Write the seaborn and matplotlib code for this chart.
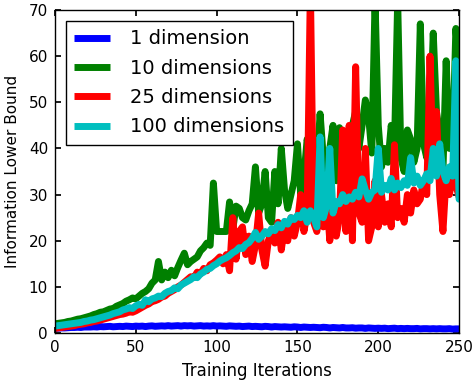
import numpy as np
import pandas as pd
import seaborn as sns
import matplotlib
matplotlib.use("Agg")
import matplotlib.pyplot as plt

# training iterations (every 2nd step)
iterations = list(range(0, 251, 2))

dim1 = [1.0, 1.05, 1.1, 1.1, 1.15, 1.2, 1.2, 1.25, 1.2, 1.3, 1.3,
        1.3, 1.35, 1.3, 1.4, 1.35, 1.4, 1.45, 1.35, 1.4, 1.45,
        1.4, 1.5, 1.45, 1.4, 1.5, 1.45, 1.5, 1.4, 1.5, 1.55,
        1.45, 1.5, 1.55, 1.5, 1.6, 1.5, 1.55, 1.6, 1.5, 1.6,
        1.55, 1.6, 1.5, 1.55, 1.6, 1.5, 1.55, 1.5, 1.6, 1.5,
        1.55, 1.5, 1.45, 1.55, 1.5, 1.45, 1.5, 1.4, 1.45, 1.5,
        1.4, 1.45, 1.4, 1.35, 1.45, 1.4, 1.3, 1.4, 1.35, 1.3,
        1.35, 1.3, 1.25, 1.35, 1.3, 1.2, 1.3, 1.25, 1.2, 1.25,
        1.2, 1.15, 1.25, 1.2, 1.1, 1.2, 1.15, 1.1, 1.2, 1.1,
        1.1, 1.15, 1.05, 1.1, 1.1, 1.0, 1.1, 1.05, 1.0, 1.05,
        1.0, 1.05, 0.95, 1.0, 1.05, 0.95, 1.0, 0.95, 1.0, 0.95,
        0.95, 1.0, 0.9, 0.95, 0.95, 0.9, 0.95, 0.9, 0.95, 0.9,
        0.9, 0.95, 0.85, 0.9, 0.9]

dim10 = [2.0, 2.1, 2.2, 2.3, 2.5, 2.6, 2.8, 3.0, 3.1, 3.3, 3.5,
         3.7, 4.0, 4.2, 4.5, 4.6, 4.9, 5.2, 5.3, 5.8, 6.1,
         6.4, 6.9, 7.2, 7.6, 7.4, 8.0, 8.6, 9.0, 9.6, 10.8,
         11.5, 15.5, 11.5, 13.2, 12.0, 13.6, 12.4, 14.2, 15.8, 17.3,
         14.8, 15.5, 16.0, 16.5, 17.8, 18.5, 19.5, 19.0, 32.5, 22.0,
         22.0, 22.0, 22.0, 28.4, 22.5, 27.5, 27.0, 25.0, 24.5, 26.5,
         28.0, 36.0, 26.0, 28.0, 35.0, 25.0, 24.0, 35.0, 28.0, 40.0,
         31.0, 27.0, 30.0, 33.0, 41.0, 30.0, 34.0, 42.0, 38.0, 30.0,
         36.0, 47.5, 38.0, 34.0, 40.0, 45.0, 33.0, 44.5, 38.0, 42.0,
         30.0, 45.0, 48.0, 40.0, 45.0, 50.5, 47.0, 39.0, 72.0, 45.0,
         36.0, 40.0, 37.0, 45.0, 40.0, 72.0, 38.0, 35.0, 44.0, 42.0,
         37.0, 40.0, 67.0, 41.0, 38.0, 44.0, 65.0, 48.0, 43.0, 35.0,
         59.0, 40.0, 40.0, 66.0, 57.0]

dim25 = [1.0, 1.1, 1.2, 1.3, 1.4, 1.5, 1.6, 1.8, 1.9, 2.0, 2.2,
         2.3, 2.5, 2.6, 2.8, 3.0, 3.2, 3.4, 3.6, 3.8, 4.0,
         4.1, 4.3, 4.6, 4.5, 4.8, 5.2, 5.6, 6.0, 6.3, 6.8,
         7.0, 7.3, 7.8, 8.0, 8.6, 9.0, 9.4, 10.0, 10.4, 11.0,
         11.6, 12.2, 12.0, 13.2, 12.8, 14.0, 13.5, 14.8, 15.2, 15.8,
         16.5, 15.0, 17.0, 13.5, 25.0, 16.0, 22.0, 23.0, 17.0, 21.0,
         15.5, 19.0, 26.0, 18.0, 14.5, 20.0, 22.0, 19.5, 24.0, 18.0,
         23.0, 20.0, 25.0, 21.0, 24.0, 30.0, 22.0, 26.0, 75.0, 24.0,
         22.0, 27.0, 23.0, 30.0, 20.0, 28.0, 21.0, 25.0, 44.0, 22.0,
         45.0, 20.0, 57.7, 26.0, 24.0, 40.0, 20.0, 23.0, 33.0, 23.0,
         30.0, 24.0, 28.0, 23.0, 40.8, 25.0, 27.0, 24.0, 30.0, 26.0,
         31.0, 28.0, 29.0, 33.0, 30.0, 60.0, 35.0, 48.0, 30.0, 22.0,
         34.0, 30.0, 34.0, 32.0, 29.5]

dim100 = [1.5, 1.6, 1.7, 1.8, 1.9, 2.0, 2.1, 2.2, 2.3, 2.5, 2.6,
          2.8, 2.9, 3.1, 3.3, 3.5, 3.7, 3.9, 4.2, 4.4, 4.6,
          5.0, 5.2, 5.5, 5.3, 5.9, 6.2, 6.0, 7.2, 6.8, 7.4,
          7.6, 8.0, 7.9, 8.6, 9.0, 9.2, 9.8, 9.6, 10.4, 10.8,
          11.2, 11.6, 12.2, 12.0, 12.8, 13.2, 13.8, 14.0, 14.6, 15.0,
          15.6, 16.0, 16.3, 16.8, 17.4, 17.8, 18.5, 18.3, 19.2, 19.6,
          20.5, 21.8, 20.3, 21.0, 22.0, 21.5, 22.6, 22.2, 23.5, 22.8,
          24.2, 23.6, 25.0, 24.6, 25.5, 25.0, 26.5, 24.0, 26.5, 25.0,
          23.0, 42.5, 25.0, 27.5, 40.0, 26.0, 28.5, 28.0, 30.0, 28.5,
          29.5, 29.0, 30.5, 29.5, 33.4, 31.0, 29.0, 30.5, 31.0, 40.0,
          30.5, 32.0, 31.0, 33.5, 31.0, 32.5, 31.5, 33.0, 32.0, 38.0,
          32.5, 34.0, 32.0, 33.0, 34.5, 33.0, 40.0, 34.0, 41.0, 35.0,
          33.0, 36.0, 34.0, 59.0, 29.0]

labels = ["1 dimension", "10 dimensions", "25 dimensions", "100 dimensions"]
colors = ["#0000ff", "#008000", "#ff0000", "#00bfbf"]

frames = []
for name, vals in zip(labels, [dim1, dim10, dim25, dim100]):
    assert len(vals) == len(iterations), (name, len(vals))
    frames.append(pd.DataFrame({"iter": iterations, "bound": vals, "series": name}))
df = pd.concat(frames, ignore_index=True)

sns.set_theme(style="ticks")
plt.rcParams.update({
    "font.family": ["DejaVu Sans"],
    "text.color": "black",
    "axes.labelcolor": "black",
    "xtick.color": "black",
    "ytick.color": "black",
    "xtick.direction": "in",
    "ytick.direction": "in",
    "xtick.top": True,
    "ytick.right": True,
    "axes.edgecolor": "black",
    "axes.linewidth": 1.0,
})

fig = plt.figure(figsize=(4.76, 3.85), dpi=100)
ax = fig.add_axes([0.1155, 0.135, 0.849, 0.839])
sns.lineplot(data=df, x="iter", y="bound", hue="series", hue_order=labels,
             palette=colors, linewidth=5, estimator=None, ax=ax)

ax.set_xlim(0, 250)
ax.set_ylim(0, 70)
ax.set_xticks(range(0, 251, 50))
ax.set_yticks(range(0, 71, 10))
ax.tick_params(labelsize=11, length=4, color="black", pad=5)
ax.set_xlabel("Training Iterations", fontsize=12, labelpad=5)
ax.set_ylabel("Information Lower Bound", fontsize=11, labelpad=6)

leg = ax.legend(loc="upper left", fontsize=14, fancybox=False,
                edgecolor="black", framealpha=1, borderaxespad=0.55,
                borderpad=0.45, labelspacing=0.53, handlelength=1.85,
                handletextpad=1.0)
leg.get_frame().set_linewidth(1.0)
for line in leg.get_lines():
    line.set_linewidth(5)
    line.set_solid_capstyle("butt")

fig.savefig("out.png", dpi=100)
